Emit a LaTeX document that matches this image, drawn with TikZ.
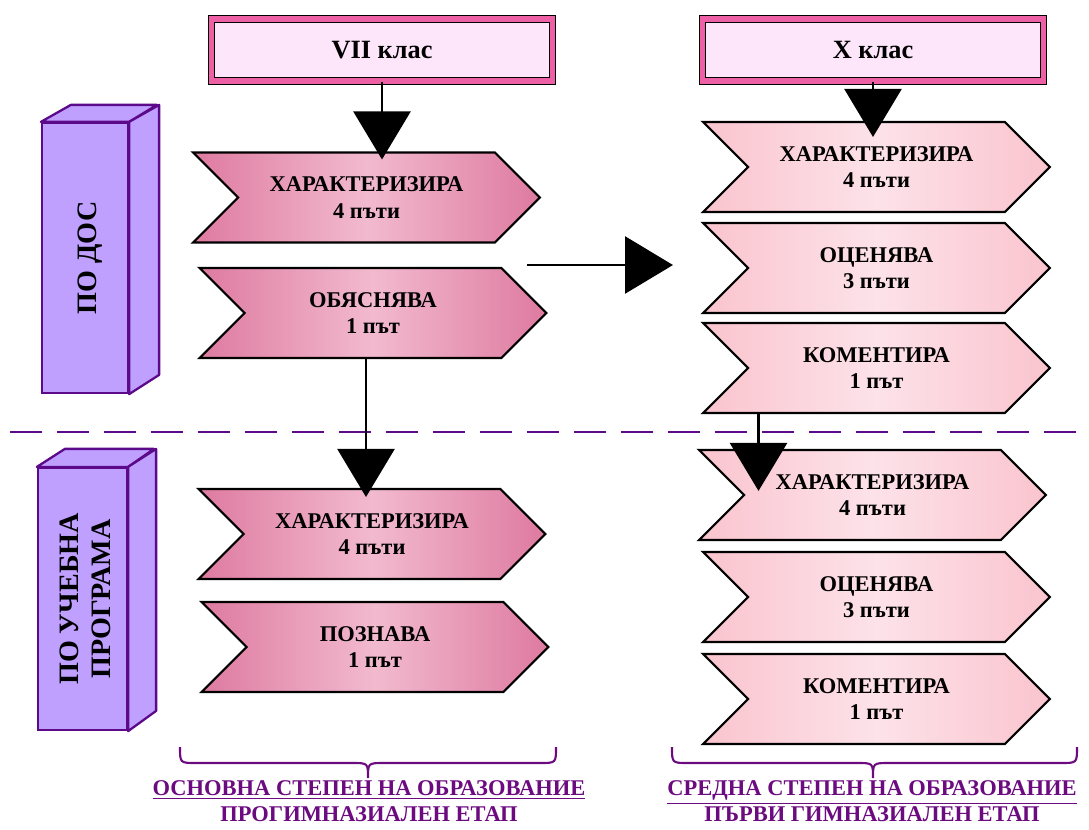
\documentclass[tikz,border=0pt]{standalone}
\usepackage{fontspec}
\setmainfont{Liberation Serif}
\usetikzlibrary{arrows.meta, positioning, calc, shapes.symbols}

\definecolor{gradefill}{RGB}{253,230,250}
\definecolor{gradeband}{RGB}{238,96,166}
\definecolor{ldark}{RGB}{222,122,160}
\definecolor{llight}{RGB}{242,186,206}
\definecolor{rdark}{RGB}{250,196,206}
\definecolor{rlight}{RGB}{253,226,233}
\definecolor{sidefill}{RGB}{191,160,255}
\definecolor{sideline}{RGB}{92,10,138}
\definecolor{stagepurple}{RGB}{108,10,128}

\begin{document}
\begin{tikzpicture}[
    x=0.02cm, y=-0.02cm,
    every node/.style = {font=\bfseries},
    grade/.style = {
        rectangle,
        draw=black,
        line width=0.8pt,
        double=gradeband,
        double distance=2.9pt,
        fill=gradefill,
        minimum width=6.82cm,
        minimum height=1.24cm,
        font=\fontsize{15}{18}\selectfont\bfseries
    },
    chevL/.style = {
        signal, signal to=east, signal from=west,
        signal pointer angle=90,
        draw=black, line width=1.2pt,
        left color=ldark, right color=ldark, middle color=llight,
        minimum width=6.94cm, minimum height=1.8cm,
        align=center,
        font=\fontsize{12.8}{15}\selectfont\bfseries
    },
    chevR/.style = {
        chevL,
        left color=rdark, right color=rdark, middle color=rlight
    },
    sidebox/.style = {
        rectangle, draw=sideline, line width=1.3pt,
        fill=sidefill, inner sep=0pt
    },
    sideface/.style = {
        draw=sideline, line width=1.3pt, fill=sidefill, line join=round
    },
    sidetext/.style = {
        rotate=90, align=center,
        font=\fontsize{16}{18}\selectfont\bfseries
    },
    bigarr/.style = {
        -{Triangle[length=0.96cm,width=1.14cm]},
        line width=1.5pt
    },
    divider/.style = {
        draw=sideline, line width=1.6pt,
        dash pattern=on 0.64cm off 0.3cm
    },
    brc/.style = {draw=stagepurple, line width=1.2pt},
    stage/.style = {
        text=stagepurple, align=center, inner sep=0pt,
        font=\fontsize{12.8}{14.5}\selectfont\bfseries
    }
]
\useasboundingbox (0,0) rectangle (1089,829);

%% Grade boxes
\node[grade] (vii) at (382,50) {VII клас};
\node[grade] (xk)  at (873,50) {X клас};

%% Side blocks (3D)
\node[sidebox, minimum width=1.72cm, minimum height=5.4cm] (dos) at (85,258) {};
\draw[sideface] (dos.north west) -- ++(30,-17) -- ++(86,0) -- (dos.north east) -- cycle;
\draw[sideface] (dos.north east) -- ++(30,-17) -- ++(0,270) -- (dos.south east) -- cycle;
\node[sidetext] at ([xshift=0.1cm]dos.center) {ПО ДОС};

\node[sidebox, minimum width=1.78cm, minimum height=5.24cm] (prog) at (82.5,599) {};
\draw[sideface] (prog.north west) -- ++(28,-18) -- ++(89,0) -- (prog.north east) -- cycle;
\draw[sideface] (prog.north east) -- ++(28,-18) -- ++(0,262) -- (prog.south east) -- cycle;
\node[sidetext] at ([xshift=0.06cm]prog.center) {ПО УЧЕБНА\\ПРОГРАМА};

%% Divider
\draw[divider] (10,432) -- (1089,432);

%% Left column
\node[chevL] (lc1) at (366.5,197.5) {ХАРАКТЕРИЗИРА\\4 пъти};
\node[chevL] (lc2) at (373,313)     {ОБЯСНЯВА\\1 път};
\node[chevL] (lc3) at (372,534)     {ХАРАКТЕРИЗИРА\\4 пъти};
\node[chevL] (lc4) at (375,647)     {ПОЗНАВА\\1 път};

%% Right column
\node[chevR] (rc1) at (876.5,167) {ХАРАКТЕРИЗИРА\\4 пъти};
\node[chevR] (rc2) at (876.5,268) {ОЦЕНЯВА\\3 пъти};
\node[chevR] (rc3) at (876.5,368) {КОМЕНТИРА\\1 път};
\node[chevR] (rc4) at (872.5,495) {ХАРАКТЕРИЗИРА\\4 пъти};
\node[chevR] (rc5) at (876.5,597) {ОЦЕНЯВА\\3 пъти};
\node[chevR] (rc6) at (876.5,699) {КОМЕНТИРА\\1 път};

%% Arrows
\coordinate (hstart) at (527,265);
\coordinate (hend)   at (673,265);
\draw[bigarr, shorten >=-0.16cm] (vii.south) -- (vii.south |- lc1.north);
\draw[bigarr, shorten >=-0.32cm] (xk.south) -- (xk.south |- rc1.north);
\draw[bigarr] (hstart) -- (hend);
\draw[bigarr, shorten >=-0.18cm] ([xshift=-0.14cm]lc2.south) -- ([xshift=-0.14cm]lc2.south |- lc3.north);
\draw[bigarr, shorten >=-0.84cm] ([xshift=-2.36cm]rc3.south) -- ([xshift=-2.36cm]rc3.south |- rc4.north);

%% Braces
\draw[brc] (180,747) .. controls (180,763) .. (196,763) -- (352,763)
    .. controls (368,763) .. (368,778) .. controls (368,763) .. (384,763)
    -- (540,763) .. controls (556,763) .. (556,747);
\draw[brc] (672,747) .. controls (672,763) .. (688,763) -- (857,763)
    .. controls (873,763) .. (873,778) .. controls (873,763) .. (889,763)
    -- (1061,763) .. controls (1077,763) .. (1077,747);

%% Stage captions
\node[stage] (osnovna) at (369,801) {\underline{ОСНОВНА СТЕПЕН НА ОБРАЗОВАНИЕ}\\ПРОГИМНАЗИАЛЕН ЕТАП};
\node[stage] (sredna)  at (872,801) {\underline{СРЕДНА СТЕПЕН НА ОБРАЗОВАНИЕ}\\ПЪРВИ ГИМНАЗИАЛЕН ЕТАП};

\end{tikzpicture}
\end{document}
